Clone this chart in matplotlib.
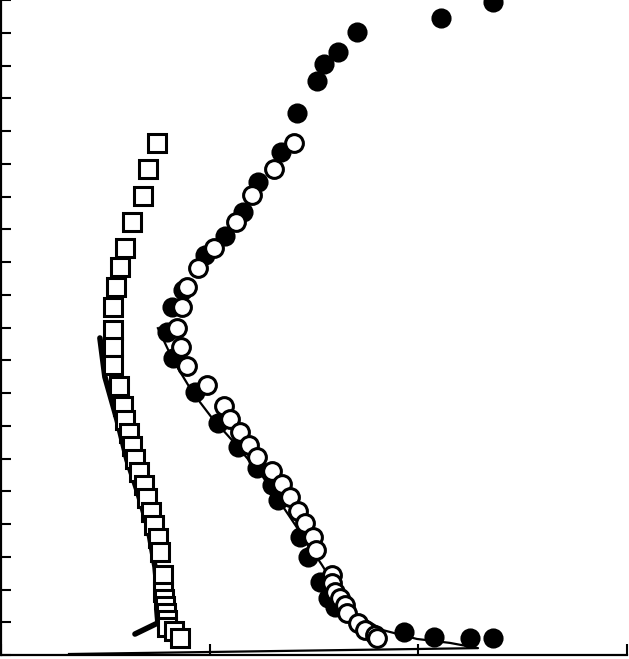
import matplotlib
matplotlib.use("Agg")
import matplotlib.pyplot as plt

# Open squares
sq_x = [0.747, 0.704, 0.680, 0.628, 0.594, 0.570, 0.551, 0.537, 0.537, 0.537, 0.537,
        0.565, 0.585, 0.594, 0.613, 0.628, 0.642, 0.661, 0.685, 0.700, 0.719, 0.733,
        0.752, 0.762, 0.776, 0.776, 0.781, 0.786, 0.791, 0.795, 0.795, 0.829, 0.858]
sq_y = [15.63, 14.84, 14.02, 13.22, 12.43, 11.85, 11.24, 10.63, 9.92, 9.40, 8.85,
        8.21, 7.60, 7.18, 6.78, 6.38, 5.98, 5.59, 5.19, 4.79, 4.37, 3.97,
        3.57, 3.15, 2.44, 1.92, 1.71, 1.50, 1.28, 1.07, 0.85, 0.73, 0.52]

# Open circles
oc_x = [1.404, 1.308, 1.203, 1.126, 1.021, 0.944, 0.891, 0.867, 0.843, 0.862, 0.891,
        0.987, 1.069, 1.097, 1.145, 1.188, 1.227, 1.299, 1.346, 1.385, 1.423, 1.457,
        1.495, 1.509, 1.586, 1.586, 1.600, 1.624, 1.648, 1.658, 1.711, 1.744, 1.792, 1.802]
oc_y = [15.63, 14.84, 14.05, 13.22, 12.43, 11.82, 11.24, 10.63, 9.98, 9.40, 8.82,
        8.24, 7.60, 7.21, 6.81, 6.41, 6.05, 5.62, 5.22, 4.82, 4.40, 4.03,
        3.60, 3.21, 2.44, 2.20, 1.92, 1.74, 1.53, 1.28, 0.98, 0.76, 0.61, 0.52]

# Filled circles
fc_x = [2.357, 2.108, 1.706, 1.615, 1.548, 1.514, 1.418, 1.342, 1.231, 1.160, 1.073,
        0.977, 0.872, 0.819, 0.795, 0.824, 0.930, 1.040, 1.136, 1.227, 1.299, 1.327,
        1.433, 1.471, 1.529, 1.567, 1.600, 1.931, 2.075, 2.247, 2.357]
fc_y = [19.95, 19.45, 19.02, 18.41, 18.05, 17.53, 16.55, 15.36, 14.44, 13.53, 12.79,
        12.21, 11.15, 10.63, 9.86, 9.07, 8.03, 7.08, 6.35, 5.71, 5.19, 4.73,
        3.60, 2.99, 2.23, 1.74, 1.47, 0.70, 0.55, 0.52, 0.52]

# Thin model line (circles)
thin_x = [0.752, 0.824, 0.920, 1.011, 1.107, 1.255, 1.385, 1.538, 1.672, 1.830,
          1.993, 2.151, 2.286, 0.326]
thin_y = [9.98, 9.01, 8.00, 7.24, 6.56, 5.44, 4.21, 2.75, 1.37, 0.76,
          0.49, 0.37, 0.21, 0.03]

# Thick model line (squares)
thick_x = [0.474, 0.498, 0.556, 0.604, 0.656, 0.704, 0.738, 0.747, 0.747, 0.752, 0.642]
thick_y = [9.68, 8.49, 7.18, 5.95, 4.95, 3.91, 2.69, 2.08, 1.37, 0.98, 0.64]

x_ticks = [0, 1, 2, 3]
y_ticks = list(range(0, 21))

fig = plt.figure(figsize=(6.29, 6.59), dpi=100)
ax = fig.add_axes([1/629, 4/659, 626/629, 655/659])

ax.plot(thick_x, thick_y, color='black', lw=4.0, solid_capstyle='round',
        solid_joinstyle='round', zorder=2)
ax.plot(thin_x, thin_y, color='black', lw=1.6, zorder=2)
ax.plot(fc_x, fc_y, 'o', color='black', ms=13, mec='black', mew=1.5, zorder=3)
ax.plot(oc_x, oc_y, 'o', mfc='white', mec='black', ms=12.8, mew=2.2, zorder=4)
ax.plot(sq_x, sq_y, 's', mfc='white', mec='black', ms=12.3, mew=2.2, zorder=5)

ax.set_xlim(0, 3)
ax.set_ylim(0, 20)
ax.set_xticks(x_ticks)
ax.set_yticks(y_ticks)
ax.set_xticklabels([])
ax.set_yticklabels([])
ax.tick_params(axis='x', direction='in', length=8, width=1.5)
ax.tick_params(axis='y', direction='in', length=7.5, width=1.5)
ax.spines['top'].set_visible(False)
ax.spines['right'].set_visible(False)
ax.spines['left'].set_linewidth(1.6)
ax.spines['bottom'].set_linewidth(1.6)

fig.savefig('out.png', dpi=100)
